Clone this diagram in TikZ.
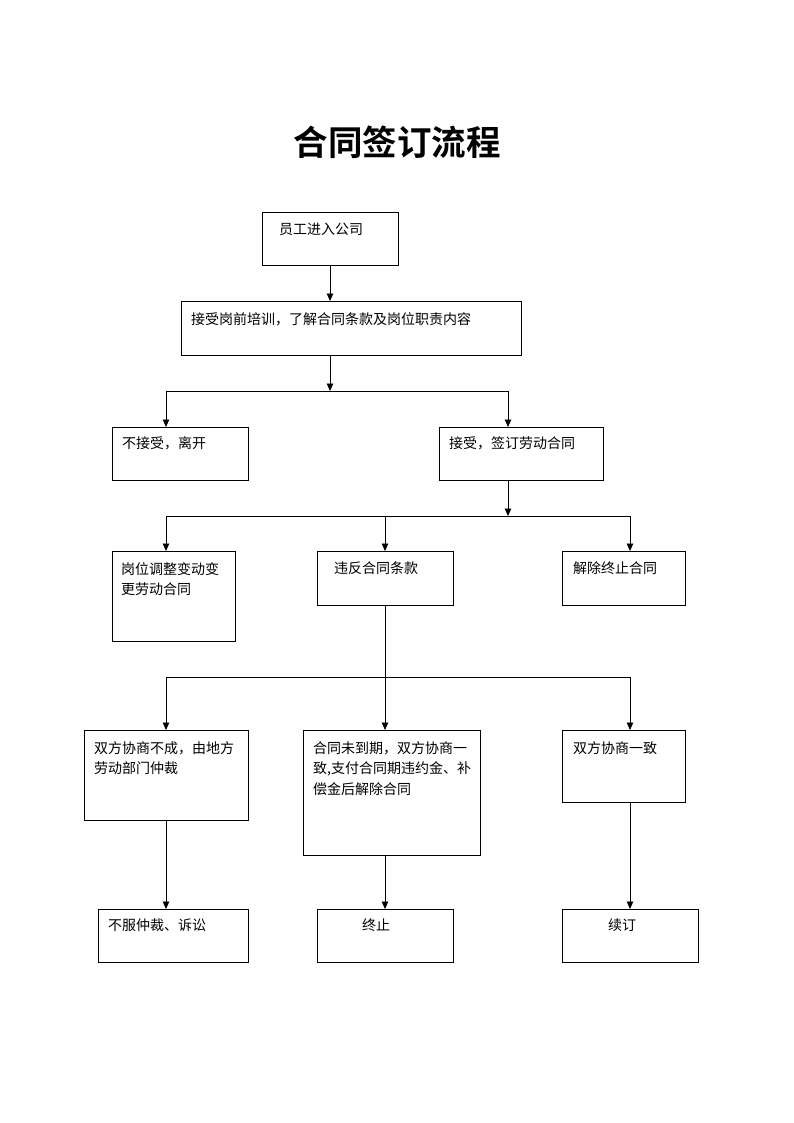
\documentclass[tikz,border=0pt]{standalone}
\usepackage{fontspec}
\newfontfamily\cjk{Noto Sans CJK SC}
\newfontfamily\cjkbold{Noto Sans CJK SC Bold}
\usetikzlibrary{arrows.meta}
\begin{document}
\begin{tikzpicture}[x=1pt,y=-1pt,
  box/.style={draw, line width=0.9pt, anchor=north west, inner sep=0pt},
  txt/.style={anchor=north west, inner sep=0pt, align=left, font=\cjk\fontsize{14}{20.5}\selectfont},
  ln/.style={line width=0.9pt},
  arr/.style={line width=0.9pt, -{Triangle[width=6.5pt,length=7.5pt]}}]
\useasboundingbox[fill=white] (0,0) rectangle (794,1123);

\node[font=\cjkbold\fontsize{34.5}{40}\selectfont] (title) at (397,142) {合同签订流程};

% boxes
\node[box, minimum width=136, minimum height=53] (b1) at (262,212) {};
\node[box, minimum width=340, minimum height=54] (b2) at (181,301) {};
\node[box, minimum width=136, minimum height=53] (b3) at (112,427) {};
\node[box, minimum width=164, minimum height=53] (b4) at (439,427) {};
\node[box, minimum width=123, minimum height=90] (b5) at (112,551) {};
\node[box, minimum width=136, minimum height=54] (b6) at (317,551) {};
\node[box, minimum width=123, minimum height=54] (b7) at (562,551) {};
\node[box, minimum width=164, minimum height=90] (b8) at (84,730) {};
\node[box, minimum width=177, minimum height=125] (b9) at (303,730) {};
\node[box, minimum width=123, minimum height=72] (b10) at (562,730) {};
\node[box, minimum width=150, minimum height=53] (b11) at (98,909) {};
\node[box, minimum width=136, minimum height=53] (b12) at (317,909) {};
\node[box, minimum width=136, minimum height=53] (b13) at (562,909) {};

% texts
\node[txt] (t1) at ([shift={(17,11)}]b1.north west) {员工进入公司};
\node[txt] (t2) at ([shift={(10,11)}]b2.north west) {接受岗前培训，了解合同条款及岗位职责内容};
\node[txt] (t3) at ([shift={(10,9)}]b3.north west) {不接受，离开};
\node[txt] (t4) at ([shift={(10,9)}]b4.north west) {接受，签订劳动合同};
\node[txt] (t5) at ([shift={(9,11)}]b5.north west) {岗位调整变动变\\更劳动合同};
\node[txt] (t6) at ([shift={(17,10)}]b6.north west) {违反合同条款};
\node[txt] (t7) at ([shift={(11,10)}]b7.north west) {解除终止合同};
\node[txt] (t8) at ([shift={(10,11)}]b8.north west) {双方协商不成，由地方\\劳动部门仲裁};
\node[txt] (t9) at ([shift={(10,11)}]b9.north west) {合同未到期，双方协商一\\致,支付合同期违约金、补\\偿金后解除合同};
\node[txt] (t10) at ([shift={(11,11)}]b10.north west) {双方协商一致};
\node[txt] (t11) at ([shift={(10,10)}]b11.north west) {不服仲裁、诉讼};
\node[txt] (t12) at ([shift={(45,10)}]b12.north west) {终止};
\node[txt] (t13) at ([shift={(46,10)}]b13.north west) {续订};

% junction coordinates
\coordinate (j1) at (330,391);
\coordinate (j1l) at (166,391);
\coordinate (j1r) at (508,391);
\coordinate (j2) at (508,516);
\coordinate (j2l) at (166,516);
\coordinate (j2m) at (385,516);
\coordinate (j2r) at (630,516);
\coordinate (j3m) at (385,677);
\coordinate (j3l) at (166,677);
\coordinate (j3r) at (630,677);

% connectors
\draw[arr] (j1 |- b1.south) -- (j1 |- b2.north);
\draw[arr] (j1 |- b2.south) -- (j1);
\draw[ln] (j1l) -- (j1r);
\draw[arr] (j1l) -- (j1l |- b3.north);
\draw[arr] (j1r) -- (j1r |- b4.north);

\draw[arr] (j2 |- b4.south) -- (j2);
\draw[ln] (j2l) -- (j2r);
\draw[arr] (j2l) -- (j2l |- b5.north);
\draw[arr] (j2m) -- (j2m |- b6.north);
\draw[arr] (j2r) -- (j2r |- b7.north);

\draw[ln] (j3m |- b6.south) -- (j3m);
\draw[ln] (j3l) -- (j3r);
\draw[arr] (j3l) -- (j3l |- b8.north);
\draw[arr] (j3m) -- (j3m |- b9.north);
\draw[arr] (j3r) -- (j3r |- b10.north);

\draw[arr] (j3l |- b8.south) -- (j3l |- b11.north);
\draw[arr] (j3m |- b9.south) -- (j3m |- b12.north);
\draw[arr] (j3r |- b10.south) -- (j3r |- b13.north);
\end{tikzpicture}
\end{document}
